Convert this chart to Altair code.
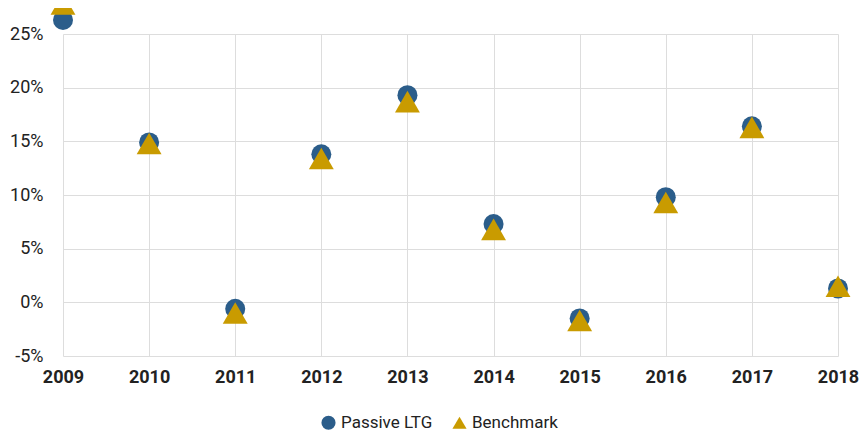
import altair as alt
import pandas as pd

years = [2009, 2010, 2011, 2012, 2013, 2014, 2015, 2016, 2017, 2018]
passive_ltg = [26.3, 14.9, -0.6, 13.8, 19.3, 7.3, -1.5, 9.8, 16.4, 1.3]
benchmark = [27.8, 14.8, -1.0, 13.4, 18.7, 6.8, -1.7, 9.3, 16.3, 1.5]
series = ["Passive LTG", "Benchmark"]
colors = ["#2B5D8A", "#C99B00"]
shapes = ["circle", "triangle-up"]

df_p = pd.DataFrame({"year": years, "value": passive_ltg, "series": series[0]})
df_b = pd.DataFrame({"year": years, "value": benchmark, "series": series[1]})

FONT = "Roboto"

x_enc = alt.X("year:Q", scale=alt.Scale(domain=[2009, 2018], nice=False, zero=False),
              axis=alt.Axis(values=years, format="d", title=None, labelFontWeight="bold",
                            labelFontSize=18, labelPadding=12, ticks=False, domain=False,
                            labelFlush=False, labelOverlap=False,
                            gridColor="#dddddd", labelColor="#222222", labelFont=FONT))
y_enc = alt.Y("value:Q", scale=alt.Scale(domain=[-5, 25], nice=False, zero=False),
              axis=alt.Axis(values=[-5, 0, 5, 10, 15, 20, 25], labelExpr="datum.value + '%'",
                            title=None, labelFontSize=18, labelPadding=20, ticks=False,
                            domain=False, gridColor="#dddddd", labelColor="#222222",
                            labelFlush=False, labelFont=FONT))
color_enc = alt.Color("series:N", scale=alt.Scale(domain=series, range=colors),
                      legend=alt.Legend(title=None, orient="none", legendX=257, legendY=380,
                                        direction="horizontal", labelFontSize=17,
                                        labelFont=FONT, labelColor="#222222", symbolSize=200,
                                        columnPadding=18, labelLimit=200, labelOffset=4))
shape_enc = alt.Shape("series:N", scale=alt.Scale(domain=series, range=shapes))

base_p = alt.Chart(df_p).mark_point(filled=True, opacity=1, clip=False, size=400).encode(
    x=x_enc, y=y_enc, color=color_enc, shape=shape_enc)
base_b = alt.Chart(df_b).mark_point(filled=True, opacity=1, clip=False, size=620).encode(
    x=x_enc, y=y_enc, color=color_enc, shape=shape_enc)

chart = alt.layer(base_p, base_b).properties(
    width=775, height=322,
    autosize=alt.AutoSizeParams(type="none"),
    padding={"left": 55, "top": 26, "right": 22, "bottom": 78},
).configure_view(strokeWidth=0)

chart.save("out.html", embed_options={"renderer": "svg", "actions": False})
